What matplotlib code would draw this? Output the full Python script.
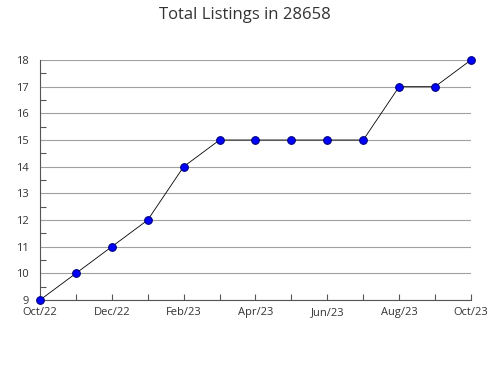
import matplotlib
matplotlib.use("Agg")
import matplotlib.pyplot as plt
from matplotlib.ticker import MultipleLocator

plt.rcParams['font.family'] = ['Open Sans', 'DejaVu Sans']

months = ['Oct/22', 'Nov/22', 'Dec/22', 'Jan/23', 'Feb/23', 'Mar/23', 'Apr/23',
          'May/23', 'Jun/23', 'Jul/23', 'Aug/23', 'Sep/23', 'Oct/23']
listings = [9, 10, 11, 12, 14, 15, 15, 15, 15, 15, 17, 17, 18]

fig = plt.figure(figsize=(4.9, 3.8), dpi=100)
ax = fig.add_axes([0.0816, 0.2105, 0.8796, 0.6316])

x = list(range(len(months)))
ax.plot(x, listings, color='black', linewidth=0.6, marker='o', markersize=5.5,
        markerfacecolor='#0000ff', markeredgecolor='#000080', markeredgewidth=0.8,
        zorder=3, clip_on=False)

ax.set_xlim(0, len(months) - 1)
ax.set_ylim(9, 18)
ax.set_xticks(x)
ax.set_xticklabels([m if i % 2 == 0 else '' for i, m in enumerate(months)])
ax.yaxis.set_major_locator(MultipleLocator(1))
ax.yaxis.set_minor_locator(MultipleLocator(0.5))

ax.grid(axis='y', which='major', color='#a0a0a0', linewidth=0.8)
ax.set_axisbelow(True)
for s in ['top', 'right']:
    ax.spines[s].set_visible(False)
for s in ['left', 'bottom']:
    ax.spines[s].set_color('#555555')
    ax.spines[s].set_linewidth(0.8)

ax.tick_params(axis='both', which='both', direction='in', color='#555555',
               labelsize=8, labelcolor='#333333', width=0.8)
ax.tick_params(axis='y', which='major', length=0, pad=8)
ax.tick_params(axis='y', which='minor', length=4)
ax.tick_params(axis='x', which='major', length=4, pad=5)

# title placed in figure coords to match the reference position
fig.text(0.499, 0.96, 'Total Listings in 28658', fontsize=12, color='#333333',
         ha='center', va='center')

fig.savefig('out.png', dpi=100)
